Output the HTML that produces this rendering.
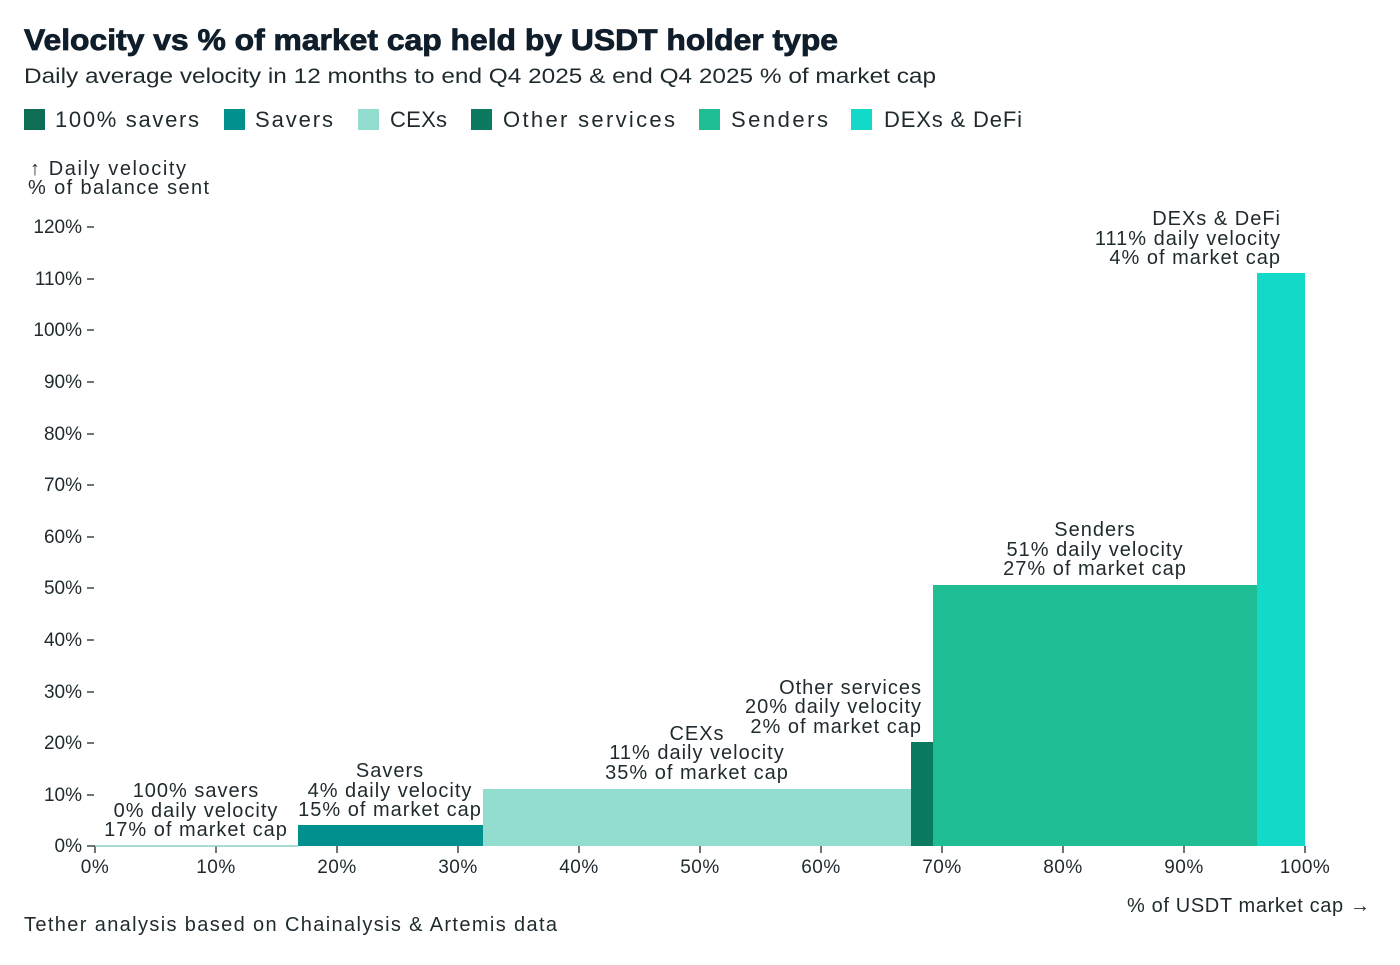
<!DOCTYPE html><html><head><style>
body{margin:0;background:#fff;width:1400px;height:960px;overflow:hidden;font-family:"Liberation Sans",sans-serif;color:#1f2a2e}
</style></head><body>
<svg width="1400" height="960" xmlns="http://www.w3.org/2000/svg" font-family="Liberation Sans, sans-serif" fill="#1f2a2e">
<text x="24" y="50" font-size="30" font-weight="900" fill="#0f1e2a" stroke="#0f1e2a" stroke-width="0.8" textLength="814" lengthAdjust="spacingAndGlyphs">Velocity vs % of market cap held by USDT holder type</text>
<text x="24" y="83" font-size="21" textLength="912" lengthAdjust="spacingAndGlyphs">Daily average velocity in 12 months to end Q4 2025 &amp; end Q4 2025 % of market cap</text>
<g font-size="22">
<rect x="24" y="109" width="21" height="21" fill="#0e6e55"/><text x="55" y="127" textLength="144">100% savers</text>
<rect x="224" y="109" width="21" height="21" fill="#00908e"/><text x="255" y="127" textLength="78">Savers</text>
<rect x="358" y="109" width="21" height="21" fill="#93dcd0"/><text x="390" y="127" textLength="57">CEXs</text>
<rect x="471" y="109" width="21" height="21" fill="#0b7a60"/><text x="503" y="127" textLength="172">Other services</text>
<rect x="699" y="109" width="21" height="21" fill="#1fbd93"/><text x="731" y="127" textLength="97">Senders</text>
<rect x="851" y="109" width="21" height="21" fill="#12d9c8"/><text x="884" y="127" textLength="138">DEXs &amp; DeFi</text>
</g>
<text x="30" y="175" font-size="20" textLength="156">↑ Daily velocity</text>
<text x="28" y="194" font-size="20" textLength="181">% of balance sent</text>
<g font-size="19" text-anchor="end">
<text x="82" y="233">120%</text><text x="82" y="285">110%</text><text x="82" y="336">100%</text><text x="82" y="388">90%</text><text x="82" y="440">80%</text><text x="82" y="491">70%</text><text x="82" y="543">60%</text><text x="82" y="594">50%</text><text x="82" y="646">40%</text><text x="82" y="698">30%</text><text x="82" y="749">20%</text><text x="82" y="801">10%</text><text x="82" y="852">0%</text>
</g>
<g stroke="#1f2a2e" stroke-width="1.3">
<line x1="87" x2="94" y1="227" y2="227"/><line x1="87" x2="94" y1="279" y2="279"/><line x1="87" x2="94" y1="330" y2="330"/><line x1="87" x2="94" y1="382" y2="382"/><line x1="87" x2="94" y1="434" y2="434"/><line x1="87" x2="94" y1="485" y2="485"/><line x1="87" x2="94" y1="537" y2="537"/><line x1="87" x2="94" y1="588" y2="588"/><line x1="87" x2="94" y1="640" y2="640"/><line x1="87" x2="94" y1="692" y2="692"/><line x1="87" x2="94" y1="743" y2="743"/><line x1="87" x2="94" y1="795" y2="795"/><line x1="87" x2="95" y1="846" y2="846"/>
<line x1="95" x2="95" y1="846" y2="853"/><line x1="216" x2="216" y1="846" y2="853"/><line x1="337" x2="337" y1="846" y2="853"/><line x1="458" x2="458" y1="846" y2="853"/><line x1="579" x2="579" y1="846" y2="853"/><line x1="700" x2="700" y1="846" y2="853"/><line x1="821" x2="821" y1="846" y2="853"/><line x1="942" x2="942" y1="846" y2="853"/><line x1="1063" x2="1063" y1="846" y2="853"/><line x1="1184" x2="1184" y1="846" y2="853"/><line x1="1305" x2="1305" y1="846" y2="853"/>
</g>
<line x1="95" x2="298" y1="846" y2="846" stroke="#8ccfc4" stroke-width="1.5"/>
<rect x="298" y="825" width="185" height="21" fill="#00908e"/>
<rect x="483" y="789" width="428" height="57" fill="#93dcd0"/>
<rect x="911" y="742" width="22" height="104" fill="#0b7a60"/>
<rect x="933" y="585" width="324" height="261" fill="#1fbd93"/>
<rect x="1257" y="273" width="48" height="573" fill="#12d9c8"/>
<g font-size="19" text-anchor="middle" letter-spacing="0.5">
<text x="95" y="873">0%</text><text x="216" y="873">10%</text><text x="337" y="873">20%</text><text x="458" y="873">30%</text><text x="579" y="873">40%</text><text x="700" y="873">50%</text><text x="821" y="873">60%</text><text x="942" y="873">70%</text><text x="1063" y="873">80%</text><text x="1184" y="873">90%</text><text x="1305" y="873">100%</text>
</g>
<g font-size="20" text-anchor="middle" letter-spacing="1">
<text x="196" y="797">100% savers</text><text x="196" y="817">0% daily velocity</text><text x="196" y="836">17% of market cap</text>
<text x="390" y="777">Savers</text><text x="390" y="797">4% daily velocity</text><text x="390" y="816">15% of market cap</text>
<text x="697" y="740">CEXs</text><text x="697" y="759">11% daily velocity</text><text x="697" y="779">35% of market cap</text>
<text x="1095" y="536">Senders</text><text x="1095" y="556">51% daily velocity</text><text x="1095" y="575">27% of market cap</text>
</g>
<g font-size="20" text-anchor="end" letter-spacing="1">
<text x="922" y="694">Other services</text><text x="922" y="713">20% daily velocity</text><text x="922" y="733">2% of market cap</text>
<text x="1281" y="225">DEXs &amp; DeFi</text><text x="1281" y="245">111% daily velocity</text><text x="1281" y="264">4% of market cap</text>
</g>
<text x="1127" y="912" font-size="20" textLength="243">% of USDT market cap →</text>
<text x="24" y="931" font-size="20" textLength="533">Tether analysis based on Chainalysis &amp; Artemis data</text>
</svg>
</body></html>
